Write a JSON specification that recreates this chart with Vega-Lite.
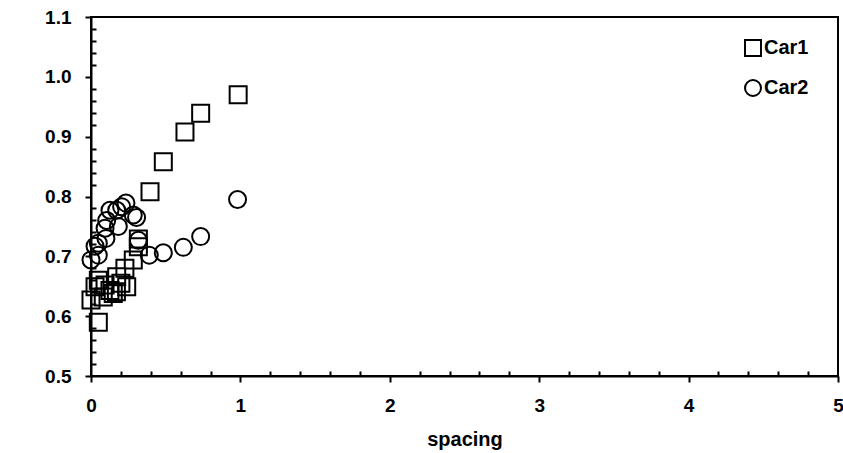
{
  "$schema": "https://vega.github.io/schema/vega-lite/v6.json",
  "autosize": "none",
  "width": 747,
  "height": 359,
  "padding": {"left": 91, "top": 17, "right": 5, "bottom": 77},
  "background": "white",
  "config": {
    "view": {"stroke": "black", "strokeWidth": 2},
    "font": "Liberation Sans",
    "axis": {
      "domainColor": "black", "domainWidth": 2, "tickColor": "black", "tickWidth": 2,
      "labelFont": "Liberation Sans", "labelFontWeight": "bold", "labelFontSize": 19, "labelColor": "black",
      "titleFont": "Liberation Sans", "titleFontWeight": "bold", "titleFontSize": 20, "titleColor": "black",
      "grid": false
    }
  },
  "data": {
    "values": [
      {"car": "Car1", "spacing": 0.985, "value": 0.970},
      {"car": "Car1", "spacing": 0.734, "value": 0.939},
      {"car": "Car1", "spacing": 0.629, "value": 0.908},
      {"car": "Car1", "spacing": 0.484, "value": 0.858},
      {"car": "Car1", "spacing": 0.395, "value": 0.808},
      {"car": "Car1", "spacing": 0.317, "value": 0.729},
      {"car": "Car1", "spacing": 0.317, "value": 0.716},
      {"car": "Car1", "spacing": 0.283, "value": 0.694},
      {"car": "Car1", "spacing": 0.227, "value": 0.680},
      {"car": "Car1", "spacing": 0.239, "value": 0.649},
      {"car": "Car1", "spacing": 0.172, "value": 0.666},
      {"car": "Car1", "spacing": 0.149, "value": 0.638},
      {"car": "Car1", "spacing": 0.094, "value": 0.652},
      {"car": "Car1", "spacing": 0.049, "value": 0.660},
      {"car": "Car1", "spacing": 0.082, "value": 0.632},
      {"car": "Car1", "spacing": 0.027, "value": 0.649},
      {"car": "Car1", "spacing": 0.0, "value": 0.627},
      {"car": "Car1", "spacing": 0.049, "value": 0.590},
      {"car": "Car1", "spacing": 0.127, "value": 0.643},
      {"car": "Car1", "spacing": 0.170, "value": 0.641},
      {"car": "Car1", "spacing": 0.200, "value": 0.655},
      {"car": "Car2", "spacing": 0.981, "value": 0.795},
      {"car": "Car2", "spacing": 0.734, "value": 0.733},
      {"car": "Car2", "spacing": 0.618, "value": 0.715},
      {"car": "Car2", "spacing": 0.484, "value": 0.706},
      {"car": "Car2", "spacing": 0.390, "value": 0.702},
      {"car": "Car2", "spacing": 0.317, "value": 0.727},
      {"car": "Car2", "spacing": 0.305, "value": 0.765},
      {"car": "Car2", "spacing": 0.283, "value": 0.769},
      {"car": "Car2", "spacing": 0.234, "value": 0.789},
      {"car": "Car2", "spacing": 0.205, "value": 0.783},
      {"car": "Car2", "spacing": 0.172, "value": 0.777},
      {"car": "Car2", "spacing": 0.127, "value": 0.777},
      {"car": "Car2", "spacing": 0.183, "value": 0.750},
      {"car": "Car2", "spacing": 0.105, "value": 0.760},
      {"car": "Car2", "spacing": 0.094, "value": 0.747},
      {"car": "Car2", "spacing": 0.100, "value": 0.730},
      {"car": "Car2", "spacing": 0.049, "value": 0.722},
      {"car": "Car2", "spacing": 0.027, "value": 0.717},
      {"car": "Car2", "spacing": 0.049, "value": 0.702},
      {"car": "Car2", "spacing": 0.0, "value": 0.694}
    ]
  },
  "mark": {"type": "point", "filled": false, "color": "black", "strokeWidth": 2, "size": 289, "opacity": 1},
  "encoding": {
    "x": {
      "field": "spacing", "type": "quantitative",
      "scale": {"domain": [0, 5], "nice": false, "zero": false},
      "axis": {
        "title": "spacing", "titlePadding": 14,
        "values": [0,0.2,0.4,0.6,0.8,1,1.2,1.4,1.6,1.8,2,2.2,2.4,2.6,2.8,3,3.2,3.4,3.6,3.8,4,4.2,4.4,4.6,4.8,5],
        "labelExpr": "abs(datum.value - round(datum.value)) < 0.001 ? format(datum.value, 'd') : ''",
        "tickSize": {"condition": {"test": "abs(datum.value - round(datum.value)) < 0.001", "value": 6}, "value": -5},
        "labelPadding": 14,
        "labelFlush": false
      }
    },
    "y": {
      "field": "value", "type": "quantitative",
      "scale": {"domain": [0.5, 1.1], "nice": false, "zero": false},
      "axis": {
        "title": null,
        "values": [0.5,0.52,0.54,0.56,0.58,0.6,0.62,0.64,0.66,0.68,0.7,0.72,0.74,0.76,0.78,0.8,0.82,0.84,0.86,0.88,0.9,0.92,0.94,0.96,0.98,1.0,1.02,1.04,1.06,1.08,1.1],
        "labelExpr": "abs(datum.value*10 - round(datum.value*10)) < 0.001 ? format(datum.value, '.1f') : ''",
        "tickSize": {"condition": {"test": "abs(datum.value*10 - round(datum.value*10)) < 0.001", "value": 6}, "value": -5},
        "labelPadding": 14,
        "labelFlush": false
      }
    },
    "shape": {
      "field": "car", "type": "nominal",
      "scale": {"domain": ["Car1", "Car2"], "range": ["square", "circle"]},
      "legend": {
        "title": null, "orient": "none", "legendX": 652, "legendY": 21,
        "labelFont": "Liberation Sans", "labelFontWeight": "bold", "labelFontSize": 20, "labelColor": "black",
        "symbolSize": 256, "symbolStrokeWidth": 2, "symbolStrokeColor": "black", "symbolFillColor": "transparent",
        "rowPadding": 16, "labelOffset": 1
      }
    }
  }
}
